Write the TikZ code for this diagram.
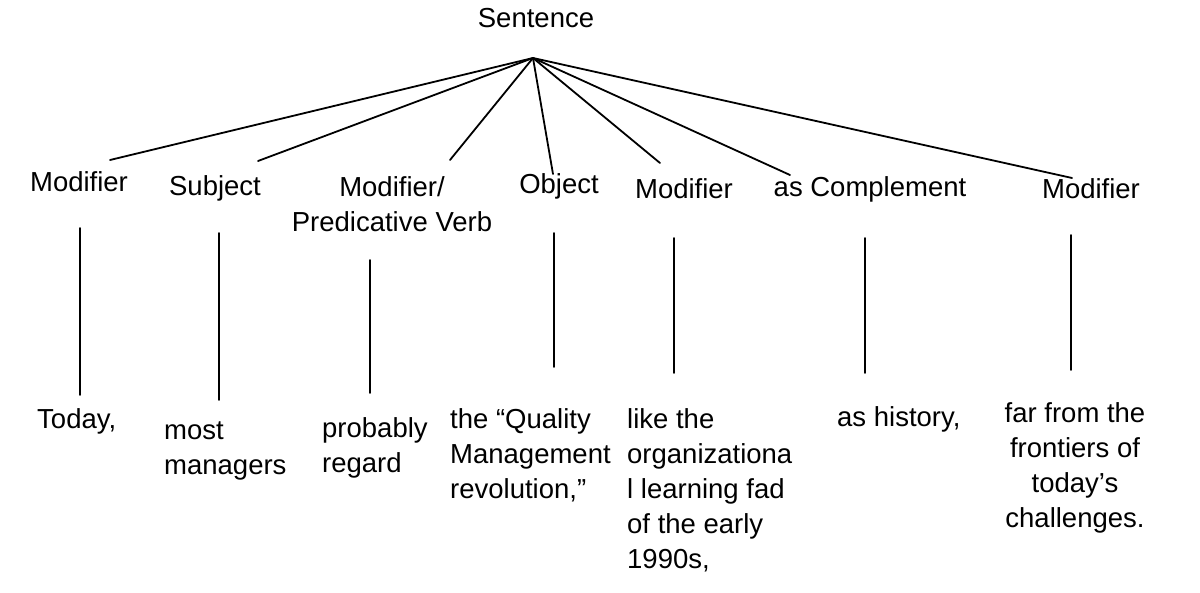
\documentclass[tikz,border=0pt]{standalone}
\usepackage{fontspec}
\setmainfont{Liberation Sans}
\begin{document}
\begin{tikzpicture}[x=1pt,y=-1pt,
  lbl/.style={inner sep=0pt, font=\fontsize{27.5}{35}\selectfont},
  conn/.style={line width=1.8pt, line cap=round}]
\useasboundingbox[fill=white] (0,0) rectangle (1200,593);
% root
\node[lbl, anchor=north] (root) at (536,2.5) {\strut Sentence};
\coordinate (apex) at (533,58);
% middle labels
\node[lbl, anchor=north] (mod1) at (79,166.5) {\strut Modifier};
\node[lbl, anchor=north] (subj) at (215,170.5) {\strut Subject};
\node[lbl, anchor=north, align=center] (pred) at (392,171.5) {\strut Modifier/\\Predicative Verb};
\node[lbl, anchor=north] (obj) at (559,168.5) {\strut Object};
\node[lbl, anchor=north] (mod2) at (684,173.5) {\strut Modifier};
\node[lbl, anchor=north] (comp) at (870,171.5) {\strut as Complement};
\node[lbl, anchor=north] (mod3) at (1091,173.5) {\strut Modifier};
% bottom texts
\node[lbl, anchor=north west] (w1) at (37,403.5) {\strut Today,};
\node[lbl, anchor=north west, align=left] (w2) at (164,414.5) {\strut most\\managers};
\node[lbl, anchor=north west, align=left] (w3) at (322,412.5) {\strut probably\\regard};
\node[lbl, anchor=north west, align=left] (w4) at (450,403.5) {\strut the “Quality\\Management\\revolution,”};
\node[lbl, anchor=north west, align=left] (w5) at (627,403.5) {\strut like the\\organizationa\\l learning fad\\of the early\\1990s,};
\node[lbl, anchor=north west] (w6) at (837,401.5) {\strut as history,};
\node[lbl, anchor=north, align=center] (w7) at (1075,397.5) {\strut far from the\\frontiers of\\today’s\\challenges.};
% ends of the branches
\coordinate (e1) at (110,160);
\coordinate (e2) at (258,161);
\coordinate (e3) at (450,160);
\coordinate (e4) at (553,174);
\coordinate (e5) at (660,163);
\coordinate (e6) at (790,175);
\coordinate (e7) at (1072,178);
\foreach \e in {e1,e2,e3,e4,e5,e6,e7} \draw[conn] (apex) -- (\e);
% vertical stems
\coordinate (v1a) at (80,228);   \coordinate (v1b) at (80,395);
\coordinate (v2a) at (219,233);  \coordinate (v2b) at (219,400);
\coordinate (v3a) at (370,260);  \coordinate (v3b) at (370,393);
\coordinate (v4a) at (554,233);  \coordinate (v4b) at (554,367);
\coordinate (v5a) at (674,238);  \coordinate (v5b) at (674,373);
\coordinate (v6a) at (865,238);  \coordinate (v6b) at (865,373);
\coordinate (v7a) at (1071,235); \coordinate (v7b) at (1071,370);
\foreach \i in {1,...,7} \draw[conn] (v\i a) -- (v\i b);
\end{tikzpicture}
\end{document}
